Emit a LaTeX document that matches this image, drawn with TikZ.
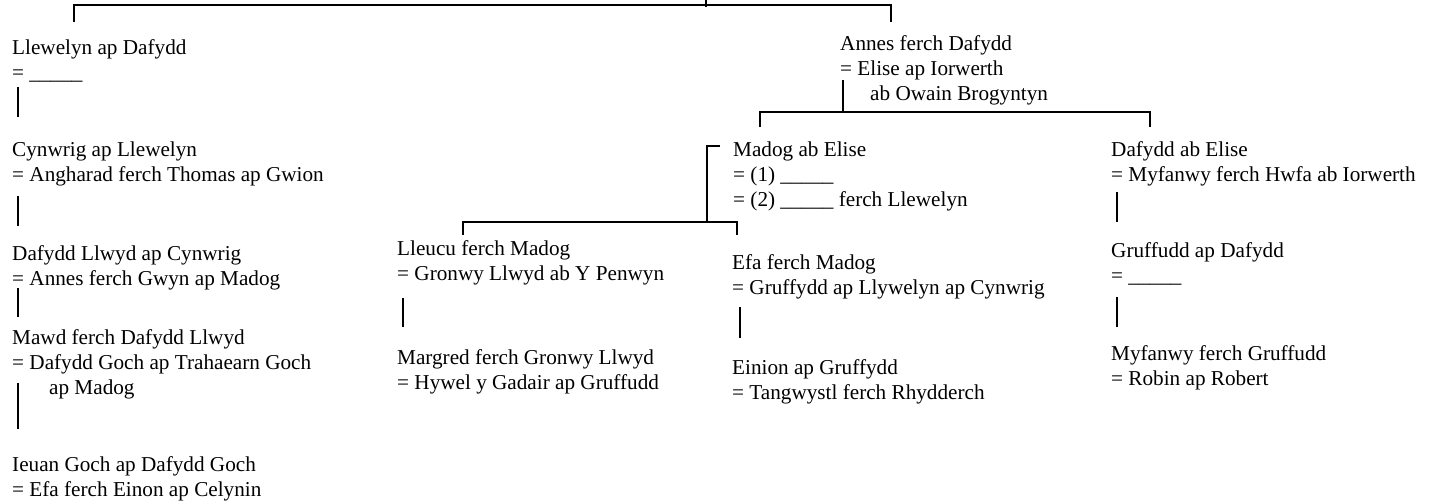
\documentclass[tikz,border=0pt]{standalone}
\usepackage{fontspec}
\setmainfont{Liberation Serif}
\usepackage{tikz}
\tikzset{
    person-box/.style = {anchor=north west, align=left, inner sep=0pt, font=\fontsize{21.2}{25}\selectfont},
    family-line/.style = {draw=black, line width=2pt},
}

\begin{document}
\begin{tikzpicture}[x=1pt, y=-1pt]
\useasboundingbox (0,0) rectangle (1443,501);
% line of Llewelyn
\node[person-box] (llewelyn) at (12,39) {Llewelyn ap Dafydd\\= \_\_\_\_\_};
\node[person-box] (cynwrig) at (12,142) {Cynwrig ap Llewelyn\\= Angharad ferch Thomas ap Gwion};
\node[person-box] (dafyddllwyd) at (12,245) {Dafydd Llwyd ap Cynwrig\\= Annes ferch Gwyn ap Madog};
\node[person-box] (mawd) at (12,329) {Mawd ferch Dafydd Llwyd\\= Dafydd Goch ap Trahaearn Goch\\\hspace*{37pt}ap Madog};
\node[person-box] (ieuan) at (12,456) {Ieuan Goch ap Dafydd Goch\\= Efa ferch Einon ap Celynin};
% line of Annes
\node[person-box] (annes) at (840,35) {Annes ferch Dafydd\\= Elise ap Iorwerth\\\hspace*{30pt}ab Owain Brogyntyn};
\node[person-box] (madog) at (733,142) {Madog ab Elise\\= (1) \_\_\_\_\_\\= (2) \_\_\_\_\_ ferch Llewelyn};
\node[person-box] (lleucu) at (397,240) {Lleucu ferch Madog\\= Gronwy Llwyd ab Y Penwyn};
\node[person-box] (margred) at (397,349) {Margred ferch Gronwy Llwyd\\= Hywel y Gadair ap Gruffudd};
\node[person-box] (efa) at (732,254) {Efa ferch Madog\\= Gruffydd ap Llywelyn ap Cynwrig};
\node[person-box] (einion) at (732,359) {Einion ap Gruffydd\\= Tangwystl ferch Rhydderch};
\node[person-box] (dafyddab) at (1111,141) {Dafydd ab Elise\\= Myfanwy ferch Hwfa ab Iorwerth};
\node[person-box] (gruffudd) at (1111,242) {Gruffudd ap Dafydd\\= \_\_\_\_\_};
\node[person-box] (myfanwy) at (1111,345) {Myfanwy ferch Gruffudd\\= Robin ap Robert};

% top bar
\coordinate (root) at (706,0);
\draw[family-line] (root) -- ++(0,7);
\draw[family-line] ([xshift=62pt,yshift=17pt]llewelyn.north west) |- ([yshift=-5pt]root) -| ([xshift=51pt,yshift=13pt]annes.north west);

% descents on the left
\draw[family-line] ([xshift=6pt,yshift=-48pt]llewelyn.north west) -- ([xshift=6pt,yshift=25pt]cynwrig.north west);
\draw[family-line] ([xshift=6pt,yshift=-54pt]cynwrig.north west) -- ([xshift=6pt,yshift=19pt]dafyddllwyd.north west);
\draw[family-line] ([xshift=6pt,yshift=-43pt]dafyddllwyd.north west) -- ([xshift=6pt,yshift=12pt]mawd.north west);
\draw[family-line] ([xshift=6pt,yshift=-54pt]mawd.north west) -- ([xshift=6pt,yshift=27pt]ieuan.north west);

% children of Annes
\coordinate (annes-drop) at ([xshift=3pt,yshift=-77pt]annes.north west);
\draw[family-line] ([xshift=3pt,yshift=-45pt]annes.north west) -- (annes-drop);
\draw[family-line] ([xshift=27pt,yshift=15pt]madog.north west) |- (annes-drop) -| ([xshift=39pt,yshift=14pt]dafyddab.north west);

% children of Madog
\coordinate (madog-drop) at ([xshift=-26pt,yshift=-80pt]madog.north west);
\draw[family-line] ([xshift=-13pt,yshift=-4pt]madog.north west) -| (madog-drop);
\draw[family-line] ([xshift=66pt,yshift=5pt]lleucu.north west) |- (madog-drop) -| ([xshift=5pt,yshift=19pt]efa.north west);
\draw[family-line] ([xshift=6pt,yshift=-58pt]lleucu.north west) -- ([xshift=6pt,yshift=22pt]margred.north west);
\draw[family-line] ([xshift=8pt,yshift=-53pt]efa.north west) -- ([xshift=8pt,yshift=21pt]einion.north west);

% line of Dafydd ab Elise
\draw[family-line] ([xshift=6pt,yshift=-51pt]dafyddab.north west) -- ([xshift=6pt,yshift=20pt]gruffudd.north west);
\draw[family-line] ([xshift=6pt,yshift=-55pt]gruffudd.north west) -- ([xshift=6pt,yshift=18pt]myfanwy.north west);
\end{tikzpicture}
\end{document}
